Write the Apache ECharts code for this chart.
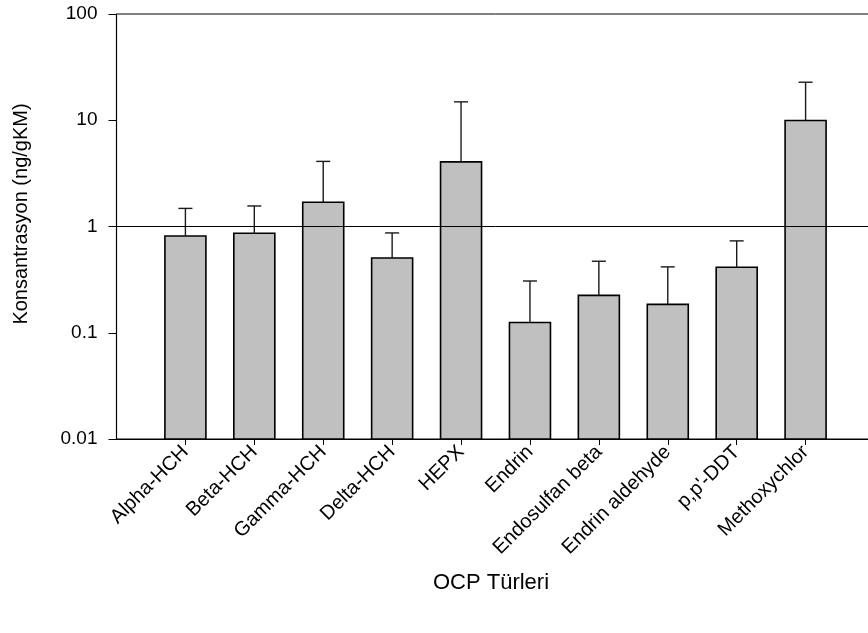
<!DOCTYPE html>
<html>
<head>
<meta charset="utf-8">
<script src="https://cdn.jsdelivr.net/npm/echarts@6/dist/echarts.min.js"></script>
<style>
  html, body { margin: 0; padding: 0; background: #ffffff; overflow: hidden; }
  /* the frame runs past the right edge of the page, so the drawing area is a bit wider */
  #chart { width: 884px; height: 633px; }
</style>
</head>
<body>
<div id="chart"></div>
<script>
// OCP concentrations (ng/gKM): mean and upper end of the error bar
const categories = ['Alpha-HCH', 'Beta-HCH', 'Gamma-HCH', 'Delta-HCH', 'HEPX', 'Endrin',
  'Endosulfan beta', 'Endrin aldehyde', "p,p'-DDT", 'Methoxychlor'];
const means = [0.815, 0.865, 1.69, 0.506, 4.06, 0.125, 0.225, 0.185, 0.414, 9.96];
const upper = [1.48, 1.56, 4.1, 0.87, 14.9, 0.307, 0.471, 0.417, 0.732, 22.8];
const yTicks = ['0.01', '0.1', '1', '10', '100'];
const yMin = 0.01;
const yMax = 100;
const refLevel = 1;
const xTitle = 'OCP Türleri';
const yTitle = 'Konsantrasyon (ng/gKM)';

const FONT = 'Liberation Sans, Arial, sans-serif';

// padded slots on both ends so the first and last bars sit one step in from the frame
const axisData = [''].concat(categories, ['']);
const barData = means.map((m, i) => [i + 1, m]);
const errData = means.map((m, i) => [i + 1, m, upper[i]]);
const lastSlot = axisData.length - 1;

const chart = echarts.init(document.getElementById('chart'), null, { renderer: 'canvas' });

chart.setOption({
  animation: false,
  backgroundColor: '#ffffff',
  grid: {
    left: 116.5, top: 14, width: 758, height: 425,
    show: true, borderColor: '#000', borderWidth: 1, backgroundColor: 'transparent'
  },
  xAxis: {
    type: 'category',
    data: axisData,
    boundaryGap: false,
    axisLine: { show: true, lineStyle: { color: '#000', width: 1.2 } },
    axisTick: {
      show: true, length: 6, inside: false,
      interval: function (index) { return index > 0 && index < lastSlot; },
      lineStyle: { color: '#000', width: 1 }
    },
    axisLabel: {
      interval: 0, rotate: 45, margin: 10,
      fontFamily: FONT, fontSize: 20, color: '#000'
    },
    splitLine: { show: false }
  },
  yAxis: {
    type: 'log',
    logBase: 10,
    min: yMin,
    max: yMax,
    axisLine: { show: true, lineStyle: { color: '#000', width: 1.2 } },
    axisTick: { show: true, length: 8, inside: false, lineStyle: { color: '#000', width: 1 } },
    minorTick: { show: false },
    axisLabel: {
      margin: 19,
      fontFamily: FONT, fontSize: 19, color: '#000',
      formatter: function (v) {
        const e = Math.round(Math.log10(v)) + 2;
        return yTicks[e] !== undefined ? yTicks[e] : '';
      }
    },
    splitLine: { show: false }
  },
  graphic: [
    {
      type: 'text', x: 21, y: 214, rotation: Math.PI / 2,
      style: {
        text: yTitle, fill: '#000', fontFamily: FONT, fontSize: 20,
        align: 'center', verticalAlign: 'middle'
      }
    },
    {
      type: 'text', x: 491, y: 583,
      style: {
        text: xTitle, fill: '#000', fontFamily: FONT, fontSize: 22,
        align: 'center', verticalAlign: 'middle'
      }
    }
  ],
  series: [
    {
      // bars rise from the bottom of the log axis up to each mean
      type: 'custom',
      data: barData,
      z: 2,
      renderItem: function (params, api) {
        const top = api.coord([api.value(0), api.value(1)]);
        const base = api.coord([api.value(0), yMin]);
        const w = 41;
        return {
          type: 'rect',
          shape: { x: top[0] - w / 2, y: top[1], width: w, height: base[1] - top[1] },
          style: { fill: '#c0c0c0', stroke: '#000', lineWidth: 1.6 }
        };
      },
      markLine: {
        silent: true,
        symbol: 'none',
        label: { show: false },
        lineStyle: { color: '#000', width: 1, type: 'solid' },
        data: [{ yAxis: refLevel }],
        z: 5
      }
    },
    {
      type: 'custom',
      data: errData,
      z: 3,
      renderItem: function (params, api) {
        const top = api.coord([api.value(0), api.value(2)]);
        const base = api.coord([api.value(0), api.value(1)]);
        const half = 7;
        const style = { stroke: '#1a1a1a', lineWidth: 1.4 };
        return {
          type: 'group',
          children: [
            { type: 'line', shape: { x1: top[0], y1: base[1], x2: top[0], y2: top[1] }, style: style },
            { type: 'line', shape: { x1: top[0] - half, y1: top[1], x2: top[0] + half, y2: top[1] }, style: style }
          ]
        };
      }
    }
  ]
});
</script>
</body>
</html>
